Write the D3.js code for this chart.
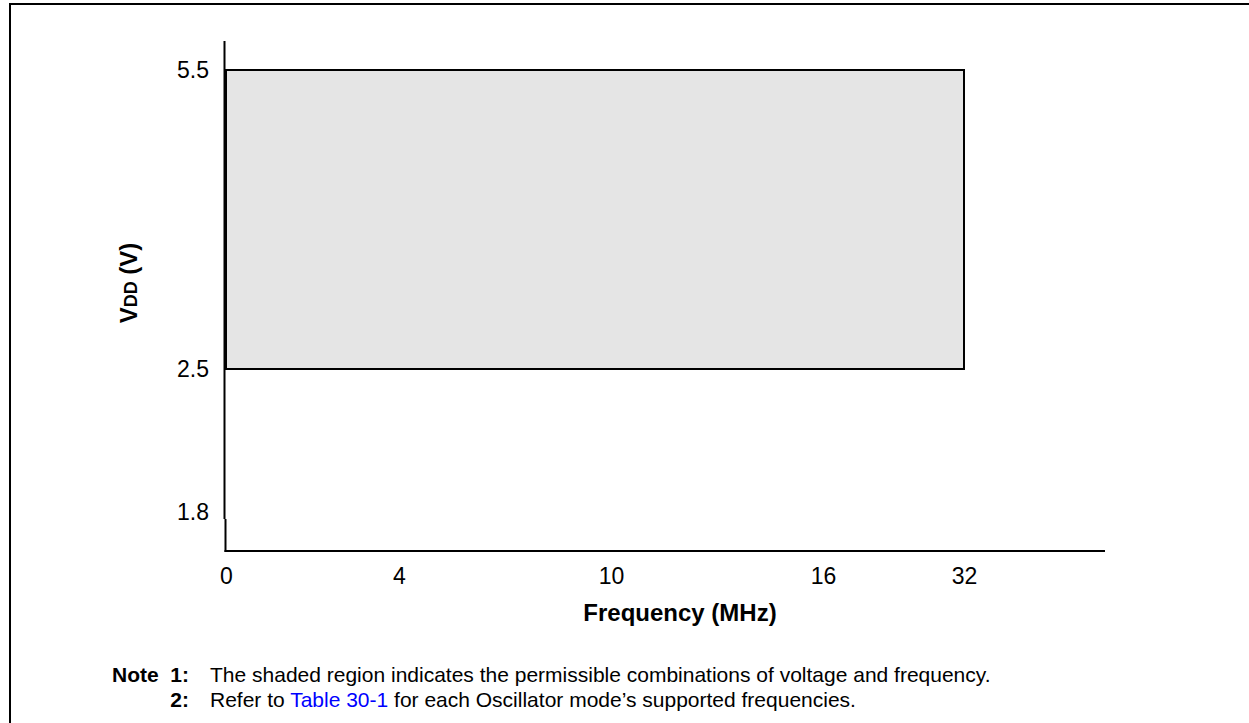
<!DOCTYPE html>
<html>
<head>
<meta charset="utf-8">
<script src="https://cdn.jsdelivr.net/npm/d3@7/dist/d3.min.js"></script>
<style>
  html, body { margin: 0; padding: 0; background: #fff; }
  svg { display: block; font-family: "Liberation Sans", Arial, sans-serif; }
</style>
</head>
<body>
<svg id="chart" width="1249" height="723"></svg>
<script>
// ---- data ----
const freqTicks = [0, 4, 10, 16, 32];          // MHz (non-linear axis)
const freqTickLabels = ["0", "4", "10", "16", "32"];
const vddTicks = [1.8, 2.5, 5.5];              // V (broken axis)
const vddTickLabels = ["1.8", "2.5", "5.5"];
const regionFreq = [0, 32];                    // shaded region frequency span
const regionVdd = [2.5, 5.5];                  // shaded region voltage span
const notes = [
  { label: "Note  1:", parts: [{ t: "The shaded region indicates the permissible combinations of voltage and frequency.", link: false }] },
  { label: "2:", parts: [{ t: "Refer to ", link: false }, { t: "Table 30-1", link: true }, { t: " for each Oscillator mode\u2019s supported frequencies.", link: false }] }
];

const svg = d3.select("#chart");

// outer frame
svg.append("rect").attr("x", 10).attr("y", 4).attr("width", 1400).attr("height", 900)
  .attr("fill", "none").attr("stroke", "#000").attr("stroke-width", 2);

// scales (piecewise because the axes are not linear)
const x = d3.scaleLinear().domain(freqTicks).range([226, 399, 611, 823, 964]);
const y = d3.scaleLinear().domain(vddTicks).range([512, 369, 70]);

const xAxisY = 551;
const yAxisX = 225;

// shaded region
svg.append("rect")
  .attr("x", x(regionFreq[0]))
  .attr("y", y(regionVdd[1]))
  .attr("width", x(regionFreq[1]) - x(regionFreq[0]))
  .attr("height", y(regionVdd[0]) - y(regionVdd[1]))
  .attr("fill", "#e5e5e5").attr("stroke", "#000").attr("stroke-width", 2);

// axis lines
svg.append("line").attr("x1", yAxisX - 0.5).attr("x2", yAxisX - 0.5).attr("y1", 41).attr("y2", 519)
  .attr("stroke", "#000").attr("stroke-width", 2);
svg.append("line").attr("x1", yAxisX + 0.5).attr("x2", yAxisX + 0.5).attr("y1", 519).attr("y2", xAxisY + 1)
  .attr("stroke", "#000").attr("stroke-width", 2);
svg.append("line").attr("x1", yAxisX - 0.5).attr("x2", 1105).attr("y1", xAxisY).attr("y2", xAxisY)
  .attr("stroke", "#000").attr("stroke-width", 2);

// x axis ticks
const xAxis = d3.axisBottom(x).tickValues(freqTicks).tickSize(0).tickPadding(17)
  .tickFormat((d, i) => freqTickLabels[i]);
const gx = svg.append("g").attr("transform", `translate(0,${xAxisY})`).call(xAxis);
gx.select(".domain").remove();
gx.selectAll("text").attr("font-size", 23).attr("fill", "#000")
  .attr("font-family", "Liberation Sans, Arial, sans-serif");

// y axis ticks
const yAxis = d3.axisLeft(y).tickValues(vddTicks).tickSize(0).tickPadding(16)
  .tickFormat((d, i) => vddTickLabels[i]);
const gy = svg.append("g").attr("transform", `translate(${yAxisX},0)`).call(yAxis);
gy.select(".domain").remove();
gy.selectAll("text").attr("font-size", 23).attr("fill", "#000")
  .attr("font-family", "Liberation Sans, Arial, sans-serif");

// axis titles
svg.append("text").attr("x", 680).attr("y", 621).attr("text-anchor", "middle")
  .attr("font-size", 24).attr("font-weight", "bold").text("Frequency (MHz)");

const yt = svg.append("text").attr("transform", "translate(137,283) rotate(-90)")
  .attr("text-anchor", "middle").attr("font-size", 24).attr("font-weight", "bold");
yt.append("tspan").text("V");
yt.append("tspan").attr("font-size", 18).text("DD");
yt.append("tspan").text(" (V)");

// notes
const noteY = [682, 707];
notes.forEach((n, i) => {
  svg.append("text").attr("x", 189).attr("y", noteY[i]).attr("text-anchor", "end")
    .attr("font-size", 21).attr("font-weight", "bold").attr("xml:space", "preserve").text(n.label);
  const t = svg.append("text").attr("x", 210).attr("y", noteY[i]).attr("font-size", 21)
    .attr("xml:space", "preserve");
  n.parts.forEach(p => t.append("tspan").attr("fill", p.link ? "#0000ff" : "#000").text(p.t));
});
</script>
</body>
</html>
